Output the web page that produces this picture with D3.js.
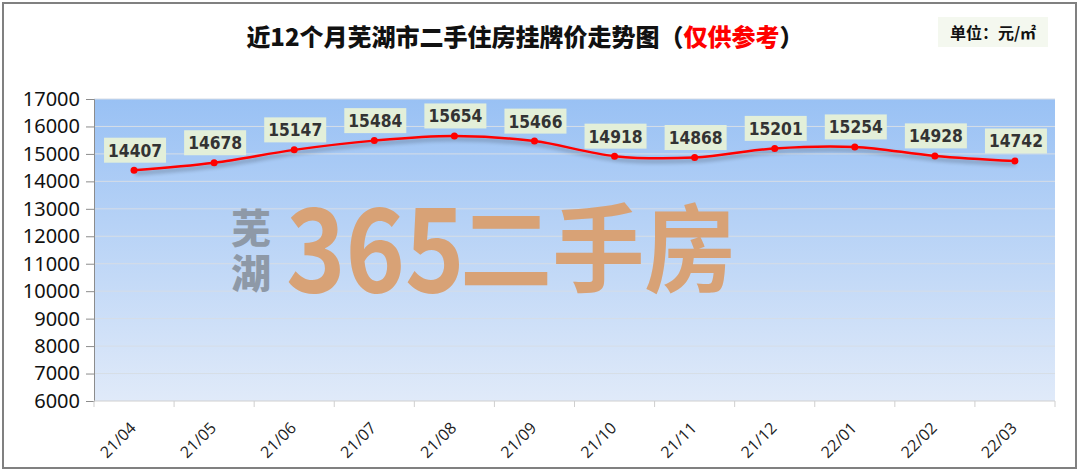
<!DOCTYPE html>
<html><head><meta charset="utf-8">
<script src="https://cdn.jsdelivr.net/npm/d3@7"></script>
<style>
html,body{margin:0;padding:0;background:#fff;}
svg{display:block;}
</style></head>
<body>
<svg id="c" width="1080" height="472"></svg>
<script>
const months = ["21/04","21/05","21/06","21/07","21/08","21/09","21/10","21/11","21/12","22/01","22/02","22/03"];
const prices = [14407,14678,15147,15484,15654,15466,14918,14868,15201,15254,14928,14742];
const yTicks = [6000,7000,8000,9000,10000,11000,12000,13000,14000,15000,16000,17000];

const svg = d3.select("#c");
const m = {l:94, r:1055, t:99, b:401};

const defs = svg.append("defs");
const grad = defs.append("linearGradient").attr("id","bg").attr("x1",0).attr("y1",0).attr("x2",0).attr("y2",1);
grad.append("stop").attr("offset","0%").attr("stop-color","#99c1f4");
grad.append("stop").attr("offset","100%").attr("stop-color","#e0eaf9");
const f = defs.append("filter").attr("id","sh").attr("x","-5%").attr("y","-50%").attr("width","110%").attr("height","200%");
f.append("feGaussianBlur").attr("in","SourceAlpha").attr("stdDeviation",2).attr("result","b");
f.append("feOffset").attr("in","b").attr("dx",1).attr("dy",3).attr("result","o");
f.append("feComponentTransfer").attr("in","o").attr("result","o2").append("feFuncA").attr("type","linear").attr("slope",0.35);
const mg = f.append("feMerge"); mg.append("feMergeNode").attr("in","o2"); mg.append("feMergeNode").attr("in","SourceGraphic");

// outer border
svg.append("rect").attr("x",3).attr("y",3).attr("width",1073).attr("height",465)
  .attr("fill","#fff").attr("stroke","#808080").attr("stroke-width",2);

const x = d3.scaleBand().domain(months).range([m.l, m.r]);
const y = d3.scaleLinear().domain([6000,17000]).range([m.b, m.t]);

// plot background
svg.append("rect").attr("x",m.l).attr("y",m.t).attr("width",m.r-m.l).attr("height",m.b-m.t).attr("fill","url(#bg)");

// gridlines
svg.append("g").selectAll("line").data(yTicks.slice(1)).join("line")
  .attr("x1",m.l).attr("x2",m.r).attr("y1",d=>y(d)).attr("y2",d=>y(d))
  .attr("stroke","#d6dde6").attr("stroke-width",1);

// watermark
const wm = svg.append("g");
wm.append("text").attr("x",251).attr("y",208)
  .style("writing-mode","vertical-rl").attr("letter-spacing",5)
  .attr("font-family","Noto Sans CJK SC").attr("font-weight",900).attr("font-size",40)
  .attr("fill","#8e99a7").text("芜湖");
wm.append("text").attr("transform","translate(286,292) scale(0.87,1)")
  .attr("font-family","Noto Sans CJK SC").attr("font-weight",700).attr("font-size",116)
  .attr("fill","#d8a276").text("365");
wm.append("text").attr("transform","translate(460,284) scale(0.96,1)")
  .attr("font-family","Noto Sans CJK SC").attr("font-weight",700).attr("font-size",96)
  .attr("fill","#d8a276").text("二手房");

// y axis
const ya = svg.append("g").attr("transform",`translate(${m.l},0)`)
  .call(d3.axisLeft(y).tickValues(yTicks).tickSize(8).tickPadding(6).tickFormat(d3.format("d")));
ya.select(".domain").attr("stroke","#8c8c8c");
ya.selectAll(".tick line").attr("stroke","#8c8c8c");
ya.selectAll(".tick text").attr("font-family","Noto Sans").attr("font-size",20).attr("fill","#111");

// x axis
svg.append("line").attr("x1",m.l).attr("x2",m.r).attr("y1",m.b).attr("y2",m.b).attr("stroke","#d0d0d0");
const bounds = months.map(d=>x(d)).concat([m.r]);
svg.append("g").selectAll("line").data(bounds).join("line")
  .attr("x1",d=>d).attr("x2",d=>d).attr("y1",m.b).attr("y2",m.b+6)
  .attr("stroke","#cfcfcf");
svg.append("g").selectAll("text").data(months).join("text")
  .attr("transform",d=>`translate(${x(d)+x.bandwidth()/2+3},${429}) rotate(-45)`)
  .attr("text-anchor","end")
  .attr("font-family","Open Sans").attr("font-size",16).attr("fill","#222")
  .text(d=>d);

// line
const cx = d => x(d)+x.bandwidth()/2;
const line = d3.line().x((d,i)=>cx(months[i])).y(d=>y(d)).curve(d3.curveCatmullRom.alpha(0.5));
svg.append("path").datum(prices).attr("d",line).attr("fill","none")
  .attr("stroke","#ff0000").attr("stroke-width",2.5).attr("filter","url(#sh)");
svg.append("g").selectAll("circle").data(prices).join("circle")
  .attr("cx",(d,i)=>cx(months[i])).attr("cy",d=>y(d)).attr("r",3.5).attr("fill","#ff0000");

// data labels
const lg = svg.append("g").selectAll("g").data(prices).join("g")
  .attr("transform",(d,i)=>`translate(${cx(months[i])+1},${y(d)-20})`);
lg.append("rect").attr("x",-31).attr("y",-12.5).attr("width",62).attr("height",25).attr("fill","#e3efd9");
lg.append("text").attr("text-anchor","middle").attr("y",6.5)
  .attr("font-family","DejaVu Sans").attr("font-weight","bold").attr("font-size",17).attr("fill","#333")
  .attr("textLength",54).attr("lengthAdjust","spacingAndGlyphs")
  .text(d=>d);

// title
const t = svg.append("text").attr("x",525).attr("y",46).attr("text-anchor","middle")
  .attr("font-family","Noto Sans CJK SC").attr("font-weight",900).attr("font-size",24).attr("fill","#111");
t.append("tspan").text("近12个月芜湖市二手住房挂牌价走势图（");
t.append("tspan").attr("fill","#ff0000").text("仅供参考");
t.append("tspan").text("）");

// unit
svg.append("rect").attr("x",938).attr("y",17).attr("width",110).attr("height",30).attr("fill","#f4f8ef");
svg.append("text").attr("x",993).attr("y",39).attr("text-anchor","middle")
  .attr("font-family","Noto Sans CJK SC").attr("font-weight",700).attr("font-size",16).attr("fill","#111")
  .text("单位：元/㎡");
</script>
</body></html>
